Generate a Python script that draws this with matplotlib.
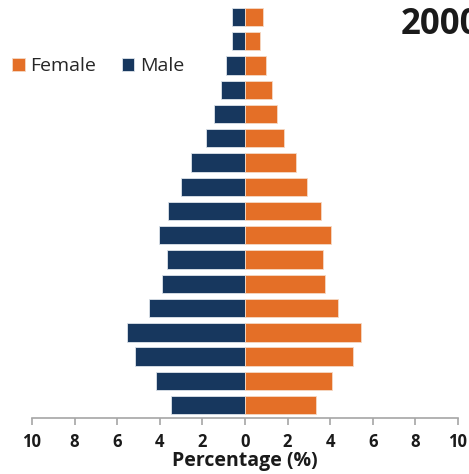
import matplotlib.pyplot as plt
import numpy as np

# age groups from youngest (bottom) to oldest (top)
age_groups = ['0-4', '5-9', '10-14', '15-19', '20-24', '25-29', '30-34', '35-39',
              '40-44', '45-49', '50-54', '55-59', '60-64', '65-69', '70-74', '75-79', '80+']
male = [3.46, 4.19, 5.18, 5.52, 4.49, 3.88, 3.66, 4.05, 3.60, 3.02,
        2.52, 1.83, 1.44, 1.14, 0.88, 0.63, 0.61]
female = [3.35, 4.08, 5.07, 5.43, 4.35, 3.77, 3.65, 4.05, 3.55, 2.91,
          2.41, 1.85, 1.50, 1.25, 0.97, 0.72, 0.86]
xticks = [-10, -8, -6, -4, -2, 0, 2, 4, 6, 8, 10]

navy = '#17375E'
orange = '#E46F27'

plt.rcParams['font.family'] = ['Open Sans', 'DejaVu Sans']

fig = plt.figure(figsize=(4.69, 4.74), dpi=100)
ax = fig.add_axes([0.0682, 0.1188, 0.9083, 0.871])

y = np.arange(len(age_groups))
hm = ax.barh(y, -np.array(male), height=0.76, color=navy, edgecolor='#dde3ea', linewidth=0.6)
hf = ax.barh(y, female, height=0.76, color=orange, edgecolor='#f5d9c5', linewidth=0.6)

ax.set_xlim(-10, 10)
ax.set_ylim(-0.52, 16.5)
ax.set_xticks(xticks)
ax.set_xticklabels([str(abs(t)) for t in xticks], fontsize=12, fontweight='bold', color='#1a1a1a')
ax.set_yticks([])
ax.set_xlabel('Percentage (%)', fontsize=14, fontweight='bold', color='#1a1a1a', labelpad=0)

for s in ['top', 'right', 'left']:
    ax.spines[s].set_visible(False)
ax.spines['bottom'].set_color('#a6a6a6')
ax.spines['bottom'].set_linewidth(1.2)
ax.tick_params(axis='x', direction='out', length=5, width=1.2, color='#a6a6a6', pad=6)

fig.legend([hf, hm], ['Female', 'Male'], loc='center left', bbox_to_anchor=(12 / 469, 0.861),
           ncol=2, frameon=False, fontsize=14, handlelength=0.65, handleheight=0.65,
           handletextpad=0.3, columnspacing=1.3, labelcolor='#262626',
           borderpad=0, borderaxespad=0)

fig.text(401 / 469, 1 - 25 / 474, '2000', fontsize=25, fontweight='bold',
         color='#1a1a1a', ha='left', va='center')

fig.savefig('out.png', dpi=100)
